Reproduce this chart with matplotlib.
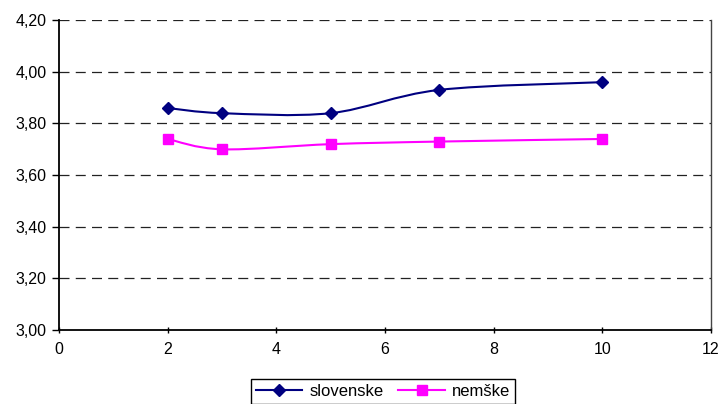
import numpy as np
import matplotlib.pyplot as plt
from matplotlib.path import Path
from matplotlib.patches import PathPatch
from matplotlib.ticker import FuncFormatter

plt.rcParams['font.family'] = ['Liberation Sans', 'DejaVu Sans']

# data
x_vals = [2, 3, 5, 7, 10]
slovenske = [3.86, 3.84, 3.84, 3.93, 3.96]
nemske = [3.74, 3.70, 3.72, 3.73, 3.74]
x_ticks = [0, 2, 4, 6, 8, 10, 12]
y_ticks = [3.00, 3.20, 3.40, 3.60, 3.80, 4.00, 4.20]


def smooth_path(xs, ys):
    # Excel-like smoothed line: cubic Bezier through the points (Catmull-Rom)
    pts = np.column_stack([xs, ys]).astype(float)
    verts = [pts[0]]
    codes = [Path.MOVETO]
    n = len(pts)
    for i in range(n - 1):
        p0 = pts[i - 1] if i > 0 else pts[i]
        p1 = pts[i]
        p2 = pts[i + 1]
        p3 = pts[i + 2] if i + 2 < n else pts[i + 1]
        c1 = p1 + (p2 - p0) / 6
        c2 = p2 - (p3 - p1) / 6
        verts += [c1, c2, p2]
        codes += [Path.CURVE4] * 3
    return Path(verts, codes)


fig = plt.figure(figsize=(7.21, 4.04), dpi=100)
ax = fig.add_axes([0.0818, 0.183, 0.904, 0.767])

series = [
    (slovenske, '#000080', 'D', 6.5, 'slovenske'),
    (nemske, '#FF00FF', 's', 6.5, 'nemške'),
]
handles = []
for ys, col, mk, ms, lab in series:
    ax.add_patch(PathPatch(smooth_path(x_vals, ys), facecolor='none',
                           edgecolor=col, lw=1.5, zorder=3))
    ax.plot(x_vals, ys, linestyle='none', marker=mk, markersize=ms,
            color=col, zorder=4)
    h, = ax.plot([], [], color=col, lw=1.5, marker=mk, markersize=ms, label=lab)
    handles.append(h)

ax.set_xlim(0, 12)
ax.set_ylim(3.0, 4.2)
ax.set_xticks(x_ticks)
ax.set_yticks(y_ticks)
ax.yaxis.set_major_formatter(FuncFormatter(lambda v, p: f'{v:.2f}'.replace('.', ',')))

for yv in y_ticks[1:]:
    ax.axhline(yv, color='#222222', lw=0.9, linestyle=(0, (8, 5)), zorder=1)

ax.spines['top'].set_visible(False)
ax.spines['right'].set_color('#444444')
ax.spines['right'].set_linewidth(1.0)
ax.spines['left'].set_linewidth(1.3)
ax.spines['bottom'].set_linewidth(1.3)
ax.tick_params(axis='y', direction='out', length=5, width=1, labelsize=11.5, pad=4)
ax.tick_params(axis='x', direction='inout', length=5, width=1, labelsize=11.5, pad=6)

fig.legend(handles=handles, loc='lower center', bbox_to_anchor=(0.531, -0.02),
           ncol=2, frameon=True, fancybox=False, edgecolor='black',
           fontsize=12, handlelength=2.8, columnspacing=0.9,
           handletextpad=0.4, borderpad=0.3, framealpha=1)

fig.savefig('out.png', dpi=100)
